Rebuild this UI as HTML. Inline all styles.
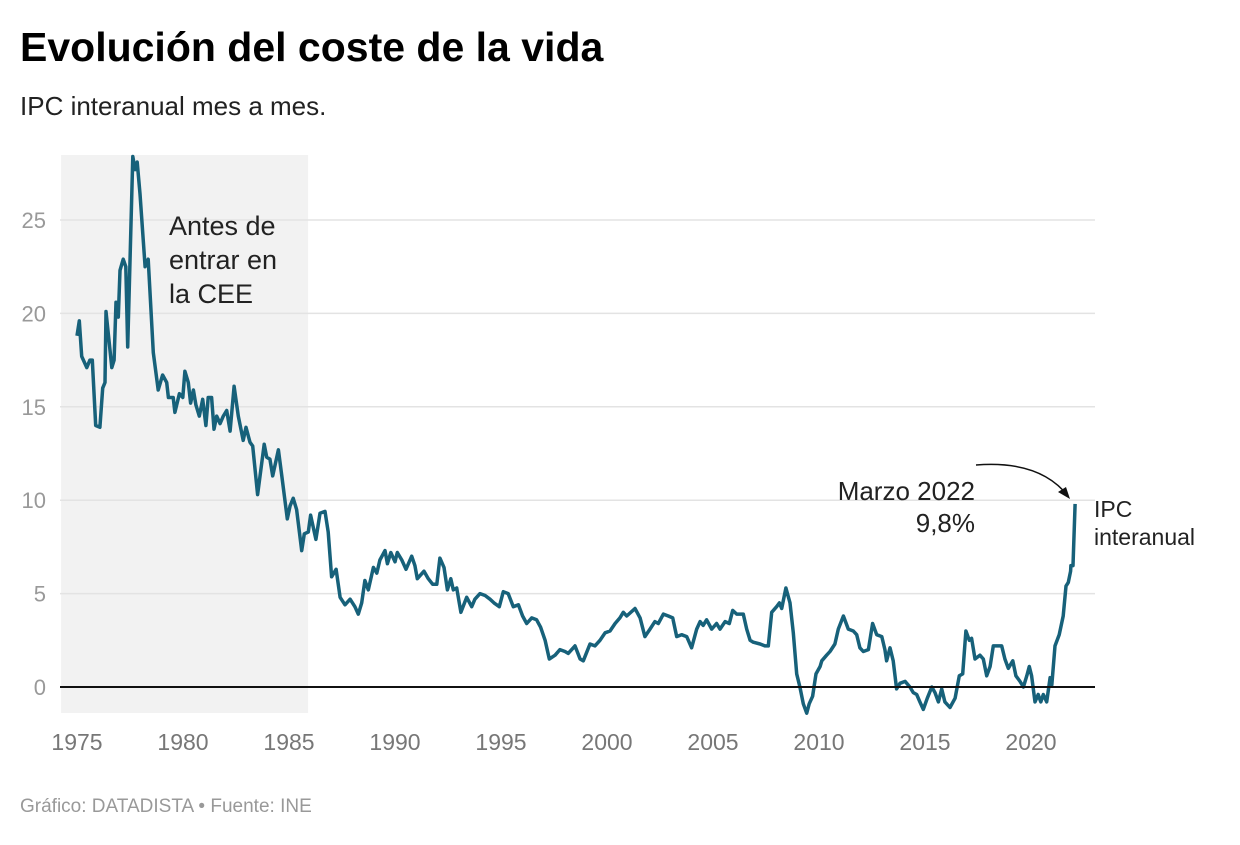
<!DOCTYPE html>
<html><head><meta charset="utf-8"><style>
body{margin:0;background:#fff;width:1240px;height:840px;overflow:hidden;font-family:"Liberation Sans",sans-serif}
svg text{font-family:"Liberation Sans",sans-serif}
</style></head><body>
<svg id="chart" width="1240" height="840">
<text x="20" y="61" font-size="41" font-weight="bold" fill="#000">Evolución del coste de la vida</text>
<text x="20" y="115" font-size="26" fill="#222">IPC interanual mes a mes.</text>
<g id="plot"></g>
<text x="20" y="812" font-size="19" fill="#999">Gráfico: DATADISTA • Fuente: INE</text>
</svg>
<script>
const years=[1975.0,1975.11,1975.22,1975.46,1975.61,1975.72,1975.88,1976.08,1976.21,1976.32,1976.37,1976.64,1976.75,1976.84,1976.95,1977.03,1977.18,1977.30,1977.39,1977.63,1977.74,1977.84,1977.97,1978.13,1978.21,1978.36,1978.60,1978.83,1979.04,1979.23,1979.31,1979.54,1979.62,1979.83,1979.99,1980.09,1980.25,1980.36,1980.49,1980.61,1980.77,1980.93,1981.08,1981.19,1981.35,1981.46,1981.59,1981.75,1981.90,1982.06,1982.22,1982.41,1982.61,1982.84,1982.97,1983.16,1983.29,1983.52,1983.83,1983.95,1984.10,1984.23,1984.50,1984.66,1984.92,1985.05,1985.20,1985.36,1985.60,1985.72,1985.91,1986.02,1986.27,1986.46,1986.70,1986.85,1987.01,1987.22,1987.41,1987.64,1987.88,1988.11,1988.27,1988.43,1988.58,1988.74,1988.98,1989.14,1989.29,1989.53,1989.64,1989.80,1990.00,1990.11,1990.32,1990.52,1990.79,1990.94,1991.05,1991.37,1991.57,1991.78,1991.97,1992.12,1992.31,1992.47,1992.63,1992.75,1992.91,1993.11,1993.38,1993.62,1993.77,1994.01,1994.25,1994.48,1994.67,1994.92,1995.11,1995.34,1995.58,1995.82,1996.02,1996.21,1996.45,1996.68,1996.87,1997.08,1997.28,1997.55,1997.78,1998.02,1998.17,1998.49,1998.73,1998.88,1999.20,1999.43,1999.67,1999.91,2000.14,2000.38,2000.61,2000.77,2000.93,2001.32,2001.56,2001.79,2002.03,2002.26,2002.42,2002.66,2002.89,2003.10,2003.29,2003.52,2003.76,2003.99,2004.23,2004.39,2004.54,2004.70,2004.94,2005.17,2005.33,2005.57,2005.77,2005.93,2006.12,2006.43,2006.59,2006.75,2006.90,2007.22,2007.45,2007.61,2007.77,2008.00,2008.13,2008.24,2008.44,2008.63,2008.79,2008.95,2009.10,2009.26,2009.42,2009.54,2009.70,2009.86,2010.05,2010.13,2010.36,2010.52,2010.75,2010.91,2011.15,2011.38,2011.62,2011.78,2011.93,2012.09,2012.33,2012.53,2012.72,2012.96,2013.11,2013.19,2013.35,2013.50,2013.66,2013.82,2014.06,2014.29,2014.45,2014.61,2014.76,2014.92,2015.11,2015.32,2015.47,2015.63,2015.79,2015.94,2016.18,2016.42,2016.62,2016.78,2016.93,2017.09,2017.20,2017.36,2017.59,2017.75,2017.91,2018.07,2018.22,2018.38,2018.62,2018.77,2018.93,2019.14,2019.29,2019.48,2019.64,2019.80,2019.92,2020.03,2020.19,2020.34,2020.46,2020.58,2020.74,2020.90,2020.98,2021.13,2021.33,2021.52,2021.65,2021.76,2021.87,2021.88,2021.98,2022.08];
const cpi=[18.8,19.6,17.7,17.1,17.5,17.5,14.0,13.9,16.0,16.3,20.1,17.1,17.5,20.6,19.8,22.3,22.9,22.5,18.2,28.4,27.7,28.1,26.4,23.8,22.5,22.9,17.9,15.9,16.7,16.3,15.5,15.5,14.7,15.7,15.5,16.9,16.3,15.2,15.9,15.1,14.5,15.4,14.0,15.5,15.5,13.8,14.5,14.1,14.5,14.8,13.7,16.1,14.5,13.2,13.9,13.1,12.9,10.3,13.0,12.3,12.2,11.3,12.7,11.3,9.0,9.7,10.1,9.5,7.3,8.2,8.3,9.2,7.9,9.3,9.4,8.3,5.9,6.3,4.8,4.4,4.7,4.3,3.9,4.5,5.7,5.2,6.4,6.1,6.8,7.3,6.6,7.2,6.7,7.2,6.8,6.3,7.0,6.5,5.8,6.2,5.8,5.5,5.5,6.9,6.4,5.2,5.8,5.2,5.3,4.0,4.8,4.3,4.7,5.0,4.9,4.7,4.5,4.3,5.1,5.0,4.3,4.4,3.8,3.4,3.7,3.6,3.2,2.5,1.5,1.7,2.0,1.9,1.8,2.2,1.5,1.4,2.3,2.2,2.5,2.9,3.0,3.4,3.7,4.0,3.8,4.2,3.7,2.7,3.1,3.5,3.4,3.9,3.8,3.7,2.7,2.8,2.7,2.1,3.1,3.5,3.3,3.6,3.1,3.4,3.1,3.5,3.4,4.1,3.9,3.9,3.1,2.5,2.4,2.3,2.2,2.2,4.0,4.3,4.5,4.2,5.3,4.5,2.9,0.7,0.0,-0.9,-1.4,-0.9,-0.5,0.7,1.1,1.4,1.7,1.9,2.3,3.1,3.8,3.1,3.0,2.8,2.1,1.9,2.0,3.4,2.8,2.7,2.0,1.4,2.1,1.4,-0.1,0.2,0.3,0.0,-0.3,-0.4,-0.8,-1.2,-0.6,0.0,-0.3,-0.8,-0.1,-0.8,-1.1,-0.6,0.6,0.7,3.0,2.5,2.6,1.5,1.7,1.5,0.6,1.1,2.2,2.2,2.2,1.5,1.0,1.4,0.6,0.3,0.0,0.6,1.1,0.6,-0.8,-0.4,-0.8,-0.4,-0.8,0.5,0.1,2.2,2.8,3.8,5.4,5.6,6.2,6.5,6.5,9.8];
const yTicks=[0,5,10,15,20,25];
const xTicks=[1975,1980,1985,1990,1995,2000,2005,2010,2015,2020];
const shadeRange=[1974.25,1985.9];

const X=y=>77+(y-1975)*21.2;
const Y=v=>687-v*18.68;
const NS='http://www.w3.org/2000/svg';
const g=document.getElementById('plot');
function mk(t,a){const e=document.createElementNS(NS,t);for(const k in a)e.setAttribute(k,a[k]);g.appendChild(e);return e;}

let r=mk('rect',{x:X(shadeRange[0]),y:155,width:X(shadeRange[1])-X(shadeRange[0]),height:558,fill:'#f2f2f2'});



yTicks.forEach(v=>{
  if(v!==0){let l=mk('line',{x1:60,x2:1095,y1:Y(v),y2:Y(v),stroke:'#e3e3e3','stroke-width':1.5});
  
  }
  let t=mk('text',{x:46,y:Y(v)+8,'text-anchor':'end','font-size':22,fill:'#999'});t.textContent=v;
  
  
});
xTicks.forEach(v=>{
  let t=mk('text',{x:X(v),y:750,'text-anchor':'middle','font-size':23,fill:'#777'});t.textContent=v;
  
  
});
let t1=mk('text',{x:169,y:235,'font-size':27,fill:'#222'});
t1.innerHTML='<tspan x="169">Antes de</tspan><tspan x="169" dy="34">entrar en</tspan><tspan x="169" dy="34">la CEE</tspan>';



let d=years.map((y,i)=>(i?'L':'M')+X(y).toFixed(1)+','+Y(cpi[i]).toFixed(1)).join('');
let p=mk('path',{d:d,fill:'none',stroke:'#17617a','stroke-width':3.5,'stroke-linejoin':'round'});



let z=mk('line',{x1:60,x2:1095,y1:Y(0),y2:Y(0),stroke:'#111','stroke-width':2});



let a=mk('text',{x:975,y:500,'text-anchor':'end','font-size':26,fill:'#222'});
a.innerHTML='<tspan x="975">Marzo 2022</tspan><tspan x="975" dy="32">9,8%</tspan>';


let ar=mk('path',{d:'M976,465 Q1040,460 1068,496',fill:'none',stroke:'#111','stroke-width':1.5});


let ah=mk('path',{d:'M1070,499 L1058,492 L1066,487 Z',fill:'#111'});


let lb=mk('text',{x:1094,y:517,'font-size':23,fill:'#222'});
lb.innerHTML='<tspan x="1094">IPC</tspan><tspan x="1094" dy="28">interanual</tspan>';


</script>
</body></html>
